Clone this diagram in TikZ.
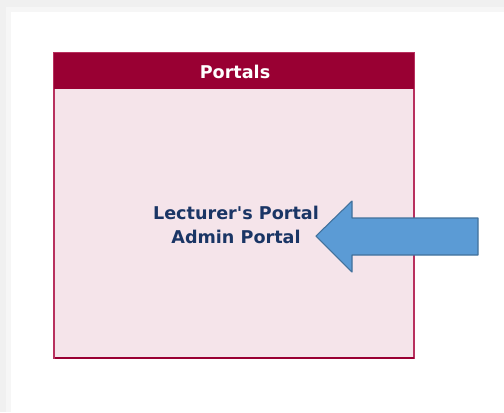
\documentclass[tikz,border=0pt]{standalone}
\usepackage{fontspec}
\setmainfont{DejaVu Sans}
\usetikzlibrary{positioning}
\definecolor{portalred}{HTML}{990033}
\definecolor{portalpink}{HTML}{F5E4EA}
\definecolor{portalline}{HTML}{B8305E}
\definecolor{portaltext}{HTML}{1A3565}
\definecolor{arrowfill}{HTML}{5B9BD5}
\definecolor{arrowline}{HTML}{41719C}
\begin{document}
\begin{tikzpicture}[x=0.75pt, y=-0.75pt,
	label/.style={font=\bfseries\fontsize{13.2}{18}\selectfont, text=portaltext, align=center},
	title/.style={font=\bfseries\fontsize{13.2}{15}\selectfont, text=white}]
	\useasboundingbox (0,0) rectangle (504,412);
	% page background and soft shadow
	\fill[gray!12] (0,0) rectangle (504,412);
	\fill[gray!7] (6,7) rectangle (504,412);
	\fill[white] (11,12) rectangle (504,412);

	% box
	\fill[portalpink] (54,53) rectangle (414,358);
	\draw[portalline, line width=1.5pt] (54,53) rectangle (414,358);
	\draw[portalred, line width=1.2pt] (55,358) -- (414,358);
	\fill[portalred] (54,53) rectangle (414,89);
	\node[title] (T) at (235,72) {Portals};

	\node[label] (L) at (236,225) {Lecturer\textquotesingle s Portal\\Admin Portal};

	% arrow
	\draw[arrowline, fill=arrowfill, line width=0.8pt, line join=round]
		(316,236) -- (352,201) -- (352,218) -- (478,218) -- (478,255) -- (352,255) -- (352,272) -- cycle;
\end{tikzpicture}
\end{document}
